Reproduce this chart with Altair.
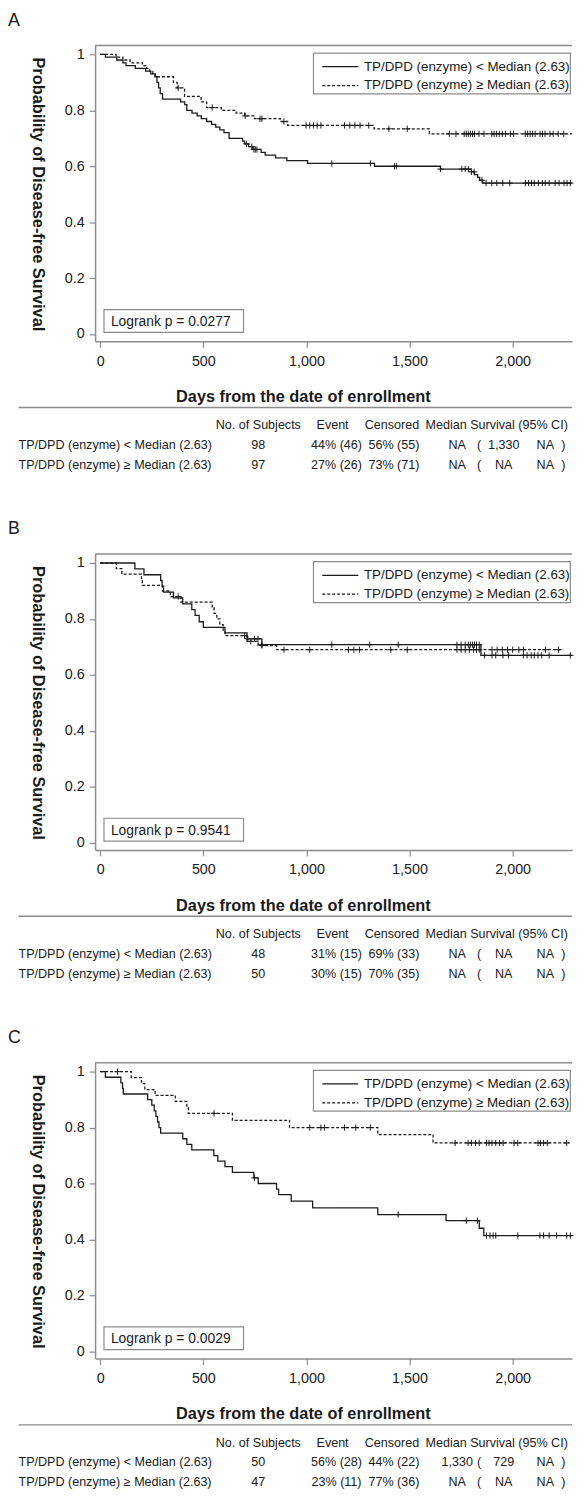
import altair as alt
import numpy as np
import pandas as pd

FONT = "Liberation Sans"
INK = "#1a1a1a"
FRAME = "#8c8c8c"

LT = "TP/DPD (enzyme) < Median (2.63)"
GE = "TP/DPD (enzyme) ≥ Median (2.63)"
GROUPS = [LT, GE]

# ---------------- Panel A ----------------
a_lt_t = [0, 25, 80, 110, 125, 170, 220, 245, 265, 275, 283, 291, 302, 390, 410, 420, 445, 470, 490, 516,
          540, 560, 580, 600, 625, 690, 700, 720, 740, 780, 800, 850, 905, 1005, 1330, 1650, 1800, 1815,
          1830, 1840, 1855, 2295]
a_lt_s = [1.0, 0.99, 0.98, 0.97, 0.96, 0.95, 0.94, 0.93, 0.92, 0.90, 0.88, 0.86, 0.84, 0.83, 0.82, 0.80,
          0.79, 0.78, 0.77, 0.76, 0.75, 0.74, 0.73, 0.72, 0.70, 0.69, 0.68, 0.67, 0.66, 0.65, 0.64, 0.63,
          0.62, 0.61, 0.60, 0.59, 0.58, 0.57, 0.56, 0.55, 0.54, 0.54]
a_lt_cens = [709, 735, 745, 752, 760, 1123, 1310, 1427, 1436, 1650, 1754, 1770, 1785, 1800, 1813, 1851,
             1871, 1899, 1923, 1952, 1986, 2062, 2077, 2091, 2105, 2125, 2144, 2158, 2177, 2206, 2225,
             2249, 2264, 2280]
a_ge_t = [0, 77, 110, 145, 205, 225, 240, 255, 267, 355, 373, 409, 489, 516, 587, 659, 700, 748, 873, 909,
          1328, 1596, 2290]
a_ge_s = [1.0, 0.99, 0.98, 0.97, 0.96, 0.95, 0.94, 0.93, 0.92, 0.90, 0.88, 0.85, 0.83, 0.81, 0.80, 0.79,
          0.78, 0.77, 0.76, 0.746, 0.734, 0.716, 0.716]
a_ge_cens = [378, 543, 703, 775, 784, 891, 998, 1016, 1034, 1052, 1070, 1185, 1210, 1235, 1260, 1302,
             1400, 1489, 1693, 1725, 1765, 1775, 1785, 1795, 1805, 1815, 1837, 1861, 1899, 1910, 1921,
             1935, 1950, 1965, 1989, 2005, 2061, 2073, 2085, 2097, 2109, 2133, 2145, 2157, 2181, 2197,
             2221, 2248]
a_pval = "Logrank p = 0.0277"
a_subjects = ["98", "97"]
a_event = ["44% (46)", "27% (26)"]
a_censored = ["56% (55)", "73% (71)"]
a_median = ["NA", "NA"]
a_lower = ["1,330", "NA"]
a_upper = ["NA", "NA"]

# ---------------- Panel B ----------------
b_lt_t = [0, 168, 212, 293, 300, 307, 355, 400, 444, 460, 480, 500, 605, 712, 784, 1846, 2295]
b_lt_s = [1.0, 0.979, 0.958, 0.9375, 0.917, 0.896, 0.875, 0.854, 0.833, 0.8125, 0.79, 0.77, 0.75,
          0.729, 0.708, 0.67, 0.67]
b_lt_cens = [716, 748, 765, 784, 1123, 1307, 1445, 1730, 1750, 1770, 1785, 1795, 1805, 1815, 1825, 1838,
             1864, 1900, 1918, 1953, 1980, 2052, 2070, 2090, 2105, 2123, 2141, 2177, 2280]
b_ge_t = [0, 78, 105, 200, 204, 302, 340, 391, 543, 552, 565, 580, 596, 605, 712, 766, 855, 2245]
b_ge_s = [1.0, 0.98, 0.96, 0.94, 0.92, 0.90, 0.88, 0.86, 0.84, 0.82, 0.80, 0.78, 0.76, 0.74, 0.72,
          0.705, 0.69, 0.69]
b_ge_cens = [378, 700, 730, 784, 891, 1016, 1204, 1230, 1257, 1409, 1489, 1730, 1750, 1770, 1790, 1810,
             1825, 1838, 1900, 1925, 1950, 1975, 2000, 2030, 2052, 2159, 2222]
b_pval = "Logrank p = 0.9541"
b_subjects = ["48", "50"]
b_event = ["31% (15)", "30% (15)"]
b_censored = ["69% (33)", "70% (35)"]
b_median = ["NA", "NA"]
b_lower = ["NA", "NA"]
b_upper = ["NA", "NA"]

# ---------------- Panel C ----------------
c_lt_t = [0, 25, 100, 108, 112, 230, 250, 262, 270, 278, 285, 293, 400, 420, 444, 551, 570, 605, 641,
          745, 766, 855, 865, 926, 1030, 1346, 1677, 1838, 1860, 2295]
c_lt_s = [1.0, 0.98, 0.96, 0.94, 0.92, 0.90, 0.88, 0.86, 0.84, 0.82, 0.80, 0.78, 0.76, 0.74, 0.72, 0.70,
          0.68, 0.66, 0.64, 0.62, 0.60, 0.58, 0.56, 0.537, 0.513, 0.489, 0.467, 0.44, 0.414, 0.414]
c_lt_cens = [748, 1445, 1775, 1829, 1873, 1890, 1905, 1918, 2025, 2132, 2150, 2177, 2213, 2262, 2280]
c_ge_t = [0, 150, 200, 216, 266, 364, 420, 427, 641, 918, 1346, 1614, 2275]
c_ge_s = [1.0, 0.979, 0.957, 0.936, 0.915, 0.894, 0.872, 0.851, 0.826, 0.80, 0.775, 0.745, 0.745]
c_ge_cens = [84, 552, 1016, 1070, 1088, 1185, 1239, 1310, 1721, 1784, 1800, 1820, 1838, 1873, 1885,
             1900, 1918, 1936, 1954, 2007, 2025, 2123, 2135, 2150, 2168, 2262]
c_pval = "Logrank p = 0.0029"
c_subjects = ["50", "47"]
c_event = ["56% (28)", "23% (11)"]
c_censored = ["44% (22)", "77% (36)"]
c_median = ["1,330", "NA"]
c_lower = ["729", "NA"]
c_upper = ["NA", "NA"]

# ---------------- table headers / axis text ----------------
row_labels = [LT, GE]
col_headers = ["No. of Subjects", "Event", "Censored", "Median Survival (95% CI)"]
x_title = "Days from the date of enrollment"
y_title = "Probability of Disease-free Survival"
x_ticks = [0, 500, 1000, 1500, 2000]
y_ticks = [0, 0.2, 0.4, 0.6, 0.8, 1]

# ---------------- layout constants ----------------
W, H = 482, 299
X_DOMAIN = [-25, 2288]
Y_DOMAIN = [-0.026, 1.032]
PLUS = "M-1,0L1,0M0,-1L0,1"
ONE = pd.DataFrame({"k": [0]})


def censored(ct, t, s):
    idx = np.searchsorted(np.array(t), np.array(ct), side="right") - 1
    return pd.DataFrame({"t": ct, "s": np.array(s)[idx]})


def text(txt, x, y, size=12.7, align="left", weight="normal", baseline="middle", lh=20):
    return alt.Chart(ONE).mark_text(
        text=txt, font=FONT, fontSize=size, fontWeight=weight, align=align,
        baseline=baseline, color=INK, lineHeight=lh
    ).encode(x=alt.value(x), y=alt.value(y))


def rule(x, x2, y, color=INK, width=1.3, dash=None):
    kw = dict(color=color, strokeWidth=width)
    if dash is not None:
        kw["strokeDash"] = dash
    return alt.Chart(ONE).mark_rule(**kw).encode(x=alt.value(x), x2=alt.value(x2), y=alt.value(y))


def panel(letter, lt_t, lt_s, lt_c, ge_t, ge_s, ge_c, pval, subjects, event, cens, median, lower, upper):
    curves = pd.concat([
        pd.DataFrame({"t": lt_t, "s": lt_s, "grp": LT}),
        pd.DataFrame({"t": ge_t, "s": ge_s, "grp": GE}),
    ])
    cmarks = pd.concat([censored(lt_c, lt_t, lt_s), censored(ge_c, ge_t, ge_s)])

    x = alt.X("t:Q", scale=alt.Scale(domain=X_DOMAIN, nice=False, zero=False),
              axis=alt.Axis(values=x_ticks, format=",.0f", title=x_title, labelPadding=7,
                            titleX=210, titleY=56, titleAlign="center", titleBaseline="middle"))
    y = alt.Y("s:Q", scale=alt.Scale(domain=Y_DOMAIN, nice=False, zero=False),
              axis=alt.Axis(values=y_ticks, format="~g", title=y_title, labelPadding=5,
                            titleAngle=90, titleX=-58, titleY=150, titleAlign="center",
                            titleBaseline="middle"))

    lines = alt.Chart(curves).mark_line(interpolate="step-after", color=INK, strokeWidth=1.3,
                                        clip=True).encode(
        x=x, y=y,
        strokeDash=alt.StrokeDash("grp:N", scale=alt.Scale(domain=GROUPS, range=[[1, 0], [3, 2]]),
                                  legend=None),
    )
    ticks = alt.Chart(cmarks).mark_point(shape=PLUS, size=40, filled=False, color=INK,
                                         strokeWidth=1, opacity=1).encode(x="t:Q", y="s:Q")

    top = rule(0, W, 0, color=FRAME, width=1.5)
    tag = text(letter, -88, -25, size=18)

    # legend box
    leg_box = alt.Chart(ONE).mark_rect(fill="white", stroke=FRAME, strokeWidth=1.2).encode(
        x=alt.value(220.7), x2=alt.value(480.3), y=alt.value(7.7), y2=alt.value(49))
    leg1 = rule(229.6, 266, 21.5)
    leg2 = rule(229.6, 266, 40.5, dash=[3, 2])
    leg_t1 = text(LT, 271.7, 21.5, size=13.5)
    leg_t2 = text(GE, 271.7, 40.5, size=13.5)

    # logrank box
    lr_box = alt.Chart(ONE).mark_rect(fill="white", stroke=FRAME, strokeWidth=1.2).encode(
        x=alt.value(9), x2=alt.value(150), y=alt.value(267), y2=alt.value(290))
    lr_t = text(pval, 16, 279.5, size=14)

    # table under the plot
    sep = rule(-77.4, W, 366, color=FRAME, width=1.5)
    hdr = [
        text(col_headers[0], 165, 384, align="center"),
        text(col_headers[1], 240, 384, align="center"),
        text(col_headers[2], 300, 384, align="center"),
        text(col_headers[3], 334, 384, align="left"),
    ]
    rt = 398
    rows = [
        text(row_labels, -77.4, rt, baseline="top"),
        text(subjects, 165, rt, align="center", baseline="top"),
        text(event, 244, rt, align="center", baseline="top"),
        text(cens, 302, rt, align="center", baseline="top"),
        text(median, 366, rt, align="center", baseline="top"),
        text(["(", "("], 386, rt, baseline="top"),
        text(lower, 413, rt, align="center", baseline="top"),
        text(upper, 455, rt, align="center", baseline="top"),
        text([")", ")"], 471, rt, baseline="top"),
    ]

    return alt.layer(
        top, tag, lines, ticks, leg_box, leg1, leg2, leg_t1, leg_t2, lr_box, lr_t, sep, *hdr, *rows
    ).properties(width=W, height=H)


pA = panel("A", a_lt_t, a_lt_s, a_lt_cens, a_ge_t, a_ge_s, a_ge_cens, a_pval,
           a_subjects, a_event, a_censored, a_median, a_lower, a_upper)
pB = panel("B", b_lt_t, b_lt_s, b_lt_cens, b_ge_t, b_ge_s, b_ge_cens, b_pval,
           b_subjects, b_event, b_censored, b_median, b_lower, b_upper)
pC = panel("C", c_lt_t, c_lt_s, c_lt_cens, c_ge_t, c_ge_s, c_ge_cens, c_pval,
           c_subjects, c_event, c_censored, c_median, c_lower, c_upper)

chart = alt.vconcat(pA, pB, pC, spacing=215, bounds="flush").properties(
    padding={"left": 0, "right": 0, "top": -4, "bottom": -5},
    background="white",
).configure_view(stroke=None).configure_axis(
    grid=False,
    domainColor=FRAME, domainWidth=1.5,
    tickColor=FRAME, tickWidth=1.2, tickSize=6,
    labelFont=FONT, labelFontSize=14.5, labelColor=INK,
    titleFont=FONT, titleFontSize=16.5, titleFontWeight="bold", titleColor=INK,
)

chart.save("out.html", embed_options={"renderer": "svg", "actions": False})
